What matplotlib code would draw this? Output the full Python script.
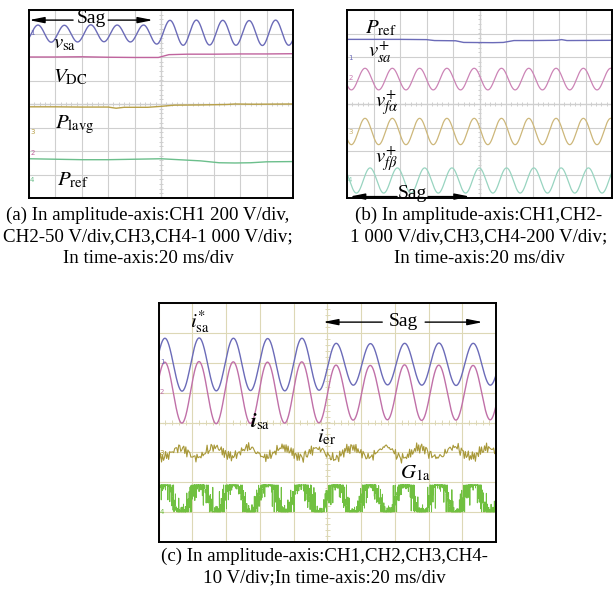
import numpy as np
import matplotlib.pyplot as plt

plt.rcParams['mathtext.fontset'] = 'stix'
plt.rcParams['font.family'] = ['Liberation Serif', 'DejaVu Serif']

# ---- data, in oscilloscope divisions (10 x 8 screen) ----
# (a) CH1 v_sa: extrema per cycle, sag until ~4.8 div
a_vsa_first, a_vsa_period = -0.66, 1.0
a_vsa_peaks = [3.36, 3.36, 3.35, 3.37, 3.36, 3.36, 3.56, 3.57, 3.56, 3.55, 3.57, 3.56]
a_vsa_troughs = [2.64, 2.63, 2.64, 2.65, 2.64, 2.55, 2.50, 2.51, 2.50, 2.49, 2.50, 2.51]
# (a) CH2 V_DC, CH3 P_lavg, CH4 P_ref (slow traces)
a_vdc_t = [0, 1, 2, 3, 4, 4.9, 5.3, 6, 7, 8, 9, 10]
a_vdc_y = [2.0, 2.0, 2.01, 1.99, 1.98, 1.98, 2.1, 2.12, 2.12, 2.13, 2.13, 2.14]
a_plavg_t = [0, 1, 2, 3, 3.3, 3.6, 4.5, 5.0, 5.5, 6.5, 7.5, 7.8, 8.5, 10]
a_plavg_y = [-0.12, -0.12, -0.13, -0.13, -0.18, -0.14, -0.14, -0.1, -0.05, -0.04, -0.02, 0.0, -0.01, 0.0]
a_pref_t = [0, 1, 2, 3, 4, 5, 5.5, 6.5, 7.2, 7.8, 8.4, 9, 10]
a_pref_y = [-2.33, -2.35, -2.37, -2.37, -2.35, -2.33, -2.36, -2.42, -2.5, -2.51, -2.5, -2.46, -2.45]

# (b) CH1 P_ref
b_pref_t = [0, 1, 2, 3, 3.3, 4.1, 4.4, 5.5, 5.9, 6.3, 7, 7.9, 8.1, 8.3, 10]
b_pref_y = [2.75, 2.75, 2.75, 2.74, 2.7, 2.69, 2.62, 2.61, 2.62, 2.7, 2.7, 2.71, 2.74, 2.7, 2.71]
# (b) CH2 v_sa+, CH3 v_fa+, CH4 v_fb+
b_period = 1.03
b_vsa_first = -0.35
b_vsa_peaks = [1.52] * 12
b_vsa_troughs = [0.60] * 12
b_vfa_first = -0.35
b_vfa_peaks = [-0.61] * 12
b_vfa_troughs = [-1.73] * 12
b_vfb_first = -0.16
b_vfb_peaks = [-2.72] * 12
b_vfb_troughs = [-3.79] * 12

# (c) CH1 i_sa*, CH2 i_sa, CH3 i_er, CH4 G_1a ; sag from ~4.87 div
c_period = 1.015
c_isr_first = -0.825
c_isr_peaks = [2.82, 2.82, 2.83, 2.82, 2.81, 2.82, 2.65, 2.64, 2.65, 2.66, 2.65, 2.64]
c_isr_troughs = [1.06, 1.05, 1.06, 1.07, 1.06, 1.08, 1.25, 1.26, 1.25, 1.24, 1.25, 1.26]
c_isa_first = -0.83
c_isa_peaks = [2.03, 2.02, 2.04, 2.03, 2.02, 2.03, 1.92, 1.91, 1.93, 1.92, 1.91, 1.92]
c_isa_troughs = [-0.03, -0.02, -0.04, -0.03, -0.02, -0.01, 0.08, 0.09, 0.07, 0.08, 0.09, 0.08]
c_ier_first = -0.375
c_ier_peaks = [-0.84, -0.86, -0.82, -0.84, -0.83, -0.87, -0.84, -0.82, -0.85, -0.84, -0.86, -0.84]
c_ier_troughs = [-1.17, -1.19, -1.15, -1.18, -1.17, -1.21, -1.16, -1.19, -1.17, -1.15, -1.18, -1.17]
c_ier_jit_a = [0.08, -0.05, 0.12, -0.1, 0.03, 0.15, -0.07, -0.12, 0.06, 0.1, -0.03, -0.14, 0.09, 0.02,
               -0.08, 0.13, -0.11, 0.05, -0.02, 0.11, -0.09, 0.04, -0.13, 0.07, 0.0, -0.06, 0.14,
               -0.04, 0.1, -0.1, 0.01]
c_ier_jit_b = [-0.06, 0.09, 0.02, -0.11, 0.07, -0.03, 0.12, -0.08, 0.04, -0.13, 0.06, 0.1, -0.05,
               0.0, -0.09, 0.11, -0.02, 0.08, -0.12, 0.03, 0.05, -0.07, 0.13]
c_g1a_first = -0.825
c_g1a_low, c_g1a_high = -2.99, -2.09

BLUE = '#6b6bb8'


def extrema_curve(first, period, peaks, troughs, t):
    ts, ys = [], []
    for k, (p, q) in enumerate(zip(peaks, troughs)):
        ts += [first + k * period, first + (k + 0.5) * period]
        ys += [p, q]
    ts, ys = np.array(ts), np.array(ys)
    i = np.clip(np.searchsorted(ts, t, side='right') - 1, 0, len(ts) - 2)
    s = np.clip((t - ts[i]) / (ts[i + 1] - ts[i]), 0, 1)
    return ys[i] + (ys[i + 1] - ys[i]) * (1 - np.cos(np.pi * s)) / 2


def scope(rect, grid_color, center_style='-'):
    ax = fig.add_axes(rect)
    ax.set_xlim(0, 10)
    ax.set_ylim(-4, 4)
    ax.set_xticks(range(11))
    ax.set_yticks(range(-4, 5))
    ax.grid(True, color=grid_color, lw=0.8)
    ax.tick_params(length=0, labelbottom=False, labelleft=False)
    for sp in ax.spines.values():
        sp.set_linewidth(1.4)
    # centre cross with small ticks
    ax.axvline(5, color=grid_color, lw=0.9, ls=center_style, zorder=0.5)
    ax.axhline(0, color=grid_color, lw=0.9, ls=center_style, zorder=0.5)
    yy = np.arange(-4, 4.01, 0.2)
    xx = np.arange(0, 10.01, 0.2)
    ax.hlines(yy, 4.93, 5.07, color=grid_color, lw=0.7, zorder=0.5)
    ax.vlines(xx, -0.08, 0.08, color=grid_color, lw=0.7, zorder=0.5)
    return ax


def sag(ax, y, left, right, tx, ty):
    kw = dict(arrowstyle='-|>,head_length=0.9,head_width=0.18', color='k', lw=1.0,
              mutation_scale=10, shrinkA=0, shrinkB=0)
    ax.annotate('', xy=(left[0], y), xytext=(left[1], y), arrowprops=kw, annotation_clip=False)
    ax.annotate('', xy=(right[1], y), xytext=(right[0], y), arrowprops=kw, annotation_clip=False)
    ax.text(tx, ty, 'Sag', fontsize=14, ha='center', va='center')


def marks(ax, ys, colors):
    for n, (y, c) in enumerate(zip(ys, colors), start=1):
        ax.text(0.04, y, str(n), fontsize=5, color=c, ha='left', va='center',
                family='DejaVu Sans')


fig = plt.figure(figsize=(6.13, 5.97), dpi=100)
t = np.linspace(-1.5, 11.5, 6000)
LBL = 15

# ---------- (a) ----------
ax = scope([29 / 613, 1 - 198 / 597, 264 / 613, 188 / 597], '#cfcfcf')
ax.plot(t, extrema_curve(a_vsa_first, a_vsa_period, a_vsa_peaks, a_vsa_troughs, t),
        color=BLUE, lw=1.0)
ax.plot(a_vdc_t, a_vdc_y, color='#c0649e', lw=1.0)
ax.plot(a_plavg_t, a_plavg_y, color='#b8a048', lw=1.0)
ax.plot(a_pref_t, a_pref_y, color='#6cbf8c', lw=1.0)
marks(ax, [3.02, -2.09, -1.19, -3.23], [BLUE, '#c0649e', '#b8a048', '#6cbf8c'])
sag(ax, 3.57, (0.0, 1.67), (3.0, 4.7), 2.35, 3.62)
ax.text(0.91, 2.38, r'$v_{\mathrm{sa}}$', fontsize=LBL)
ax.text(0.91, 0.94, r'$V_{\mathrm{DC}}$', fontsize=LBL)
ax.text(0.98, -1.02, r'$P_{\mathrm{lavg}}$', fontsize=LBL)
ax.text(1.06, -3.45, r'$P_{\mathrm{ref}}$', fontsize=LBL)

# ---------- (b) ----------
ax = scope([347 / 613, 1 - 198 / 597, 265 / 613, 188 / 597], '#cfcfcf')
ax.plot(b_pref_t, b_pref_y, color=BLUE, lw=1.0)
ax.plot(t, extrema_curve(b_vsa_first, b_period, b_vsa_peaks, b_vsa_troughs, t),
        color='#cc84b6', lw=0.9)
ax.plot(t, extrema_curve(b_vfa_first, b_period, b_vfa_peaks, b_vfa_troughs, t),
        color='#cdb77a', lw=0.9)
ax.plot(t, extrema_curve(b_vfb_first, b_period, b_vfb_peaks, b_vfb_troughs, t),
        color='#98d4c0', lw=0.9)
marks(ax, [1.96, 1.11, -1.19, -3.23], [BLUE, '#c878b0', '#c8b070', '#8fd0b8'])
sag(ax, -3.94, (0.1, 1.89), (3.06, 4.64), 2.45, -3.8)
ax.text(0.68, 3.02, r'$P_{\mathrm{ref}}$', fontsize=LBL)
ax.text(0.79, 2.0, r'$v_{sa}^{+}$', fontsize=LBL)
ax.text(1.06, -0.13, r'$v_{f\alpha}^{+}$', fontsize=LBL)
ax.text(1.06, -2.51, r'$v_{f\beta}^{+}$', fontsize=LBL)

# ---------- (c) ----------
ax = scope([158.5 / 613, 1 - 542 / 597, 337.5 / 613, 239 / 597], '#ddd8b6', center_style=':')
tc = np.linspace(-1.5, 11.5, 13001)
ax.plot(tc, extrema_curve(c_isr_first, c_period, c_isr_peaks, c_isr_troughs, tc),
        color=BLUE, lw=1.0)
ax.plot(tc, extrema_curve(c_isa_first, c_period, c_isa_peaks, c_isa_troughs, tc),
        color='#c070a8', lw=1.0)

# i_er: slow ripple plus measured jitter, sampled about once per pixel
ts = tc[::30]
n = np.arange(ts.size)
ier = extrema_curve(c_ier_first, c_period, c_ier_peaks, c_ier_troughs, ts)
ier_noise = (np.array(c_ier_jit_a)[n % len(c_ier_jit_a)]
             + np.array(c_ier_jit_b)[n % len(c_ier_jit_b)]) * 0.75
ax.plot(ts, ier + ier_noise, color='#a89838', lw=0.8)

# G_1a: clipped sine outline with switching spikes on the slopes
ref = extrema_curve(c_g1a_first, c_period, [1.45] * 12, [-1.45] * 12, tc)
base = c_g1a_low + (c_g1a_high - c_g1a_low) * (np.clip(ref, -1, 1) + 1) / 2
m = np.arange(tc.size)
spike = np.zeros_like(tc)
on = (m % 14 == 0)
k = m // 14
jit = np.array(c_ier_jit_a)[k % len(c_ier_jit_a)] * 4.0 + np.array(c_ier_jit_b)[k % len(c_ier_jit_b)] * 2.0
spike[on] = jit[on]
spike[np.abs(ref) >= 1.25] *= 0.3
g1a = np.clip(base + spike, c_g1a_low, c_g1a_high)
ax.plot(tc, g1a, color='#70c040', lw=0.7)

marks(ax, [2.02, 1.02, -1.02, -2.99], [BLUE, '#c070a8', '#a89838', '#70c040'])
sag(ax, 3.36, (4.87, 6.63), (7.9, 9.61), 7.27, 3.38)
ax.text(0.93, 3.19, r'$i_{\mathrm{sa}}^{*}$', fontsize=LBL)
ax.text(2.71, -0.15, r'$\boldsymbol{i}_{\mathrm{sa}}$', fontsize=LBL)
ax.text(4.70, -0.65, r'$i_{\mathrm{er}}$', fontsize=LBL)
ax.text(7.16, -1.86, r'$G_{\mathrm{1a}}$', fontsize=LBL)

# ---------- captions ----------
CAP = 13.6
cap_a = ['(a) In amplitude-axis:CH1 200 V/div,', 'CH2-50 V/div,CH3,CH4-1 000 V/div;',
         'In time-axis:20 ms/div']
cap_b = ['(b) In amplitude-axis:CH1,CH2-', '1 000 V/div,CH3,CH4-200 V/div;',
         'In time-axis:20 ms/div']
cap_c = ['(c) In amplitude-axis:CH1,CH2,CH3,CH4-', '10 V/div;In time-axis:20 ms/div']
for i, s in enumerate(cap_a):
    fig.text(148 / 613, 1 - (215 + 22 * i) / 597, s, fontsize=CAP, ha='center', va='center')
for i, s in enumerate(cap_b):
    fig.text(479 / 613, 1 - (215 + 22 * i) / 597, s, fontsize=CAP, ha='center', va='center')
for i, s in enumerate(cap_c):
    fig.text(324 / 613, 1 - (556 + 22 * i) / 597, s, fontsize=CAP, ha='center', va='center')

fig.savefig('out.png', dpi=100)
